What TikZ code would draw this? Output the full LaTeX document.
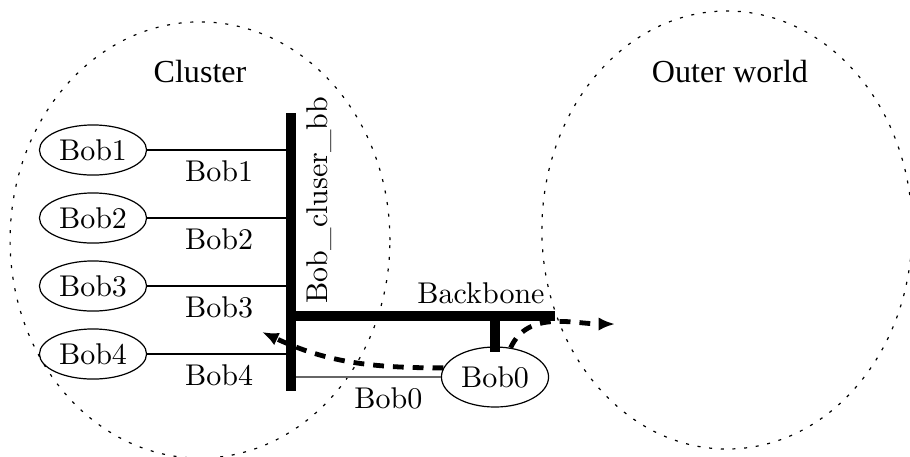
\documentclass[tikz,border=0pt]{standalone}
\usepackage{fontspec}
\newfontfamily\timesfont{Liberation Serif}
\usetikzlibrary{arrows.meta,shapes.geometric}

\begin{document}
\begin{tikzpicture}[x=0.3333pt,y=-0.3333pt,
  zone/.style={line width=0.4pt,dash pattern=on 1pt off 2.9pt},
  title/.style={font=\timesfont\fontsize{10.7pt}{12pt}\selectfont},
  host/.style={draw,ellipse,inner sep=0pt,minimum width=35.7pt,minimum height=16.7pt},
  bus/.style={line width=3.3pt},
  flow/.style={line width=1.6pt,dash pattern=on 3.6pt off 3pt,-{Latex[length=5.5pt,width=4.5pt]}}]
\useasboundingbox (0,0) rectangle (910,456);
% the two areas
\draw[zone] (200,240) ellipse [x radius=63.3pt, y radius=72.7pt];
\draw[zone] (727,230) ellipse [x radius=61.7pt, y radius=73pt];
\node[title] (cluster) at (200,72) {Cluster};
\node[title] (outer) at (730,72) {Outer world};
% bus ends
\coordinate (bbtop) at (291,113);
\coordinate (bbbot) at (291,391);
\coordinate (bbcorner) at (291,316);
\coordinate (bbend) at (555,316);
\coordinate (tap) at (495,316);
\coordinate (intip) at (262,332);
\coordinate (outtip) at (615,324);
% hosts
\node[host] (bob1) at (93,150) {Bob1};
\node[host] (bob2) at (93,218) {Bob2};
\node[host] (bob3) at (93,286) {Bob3};
\node[host] (bob4) at (93,354) {Bob4};
\node[host,minimum height=20pt] (bob0) at (495,377) {Bob0};
\foreach \i in {1,...,4}
  \draw (bob\i) -- node[below] {Bob\i} (bob\i -| bbtop);
\draw[black!60] (bob0) -- node[below,pos=0.35,black] {Bob0} (bob0 -| bbtop);
% backbones
\draw[bus] (bbtop) -- (bbbot);
\draw[bus] (bbcorner) -- (bbend);
\draw[bus] (tap) -- ([yshift=-2pt]bob0.north);
\node[rotate=90] (bblabel) at (319,200) {Bob\_cluser\_bb};
\node (backbone) at (481,293) {Backbone};
% traffic
\draw[flow] (bob0.170) to[out=180,in=-25] (intip);
\draw[flow] (bob0.62) to[out=65,in=180] (outtip);
\end{tikzpicture}
\end{document}
